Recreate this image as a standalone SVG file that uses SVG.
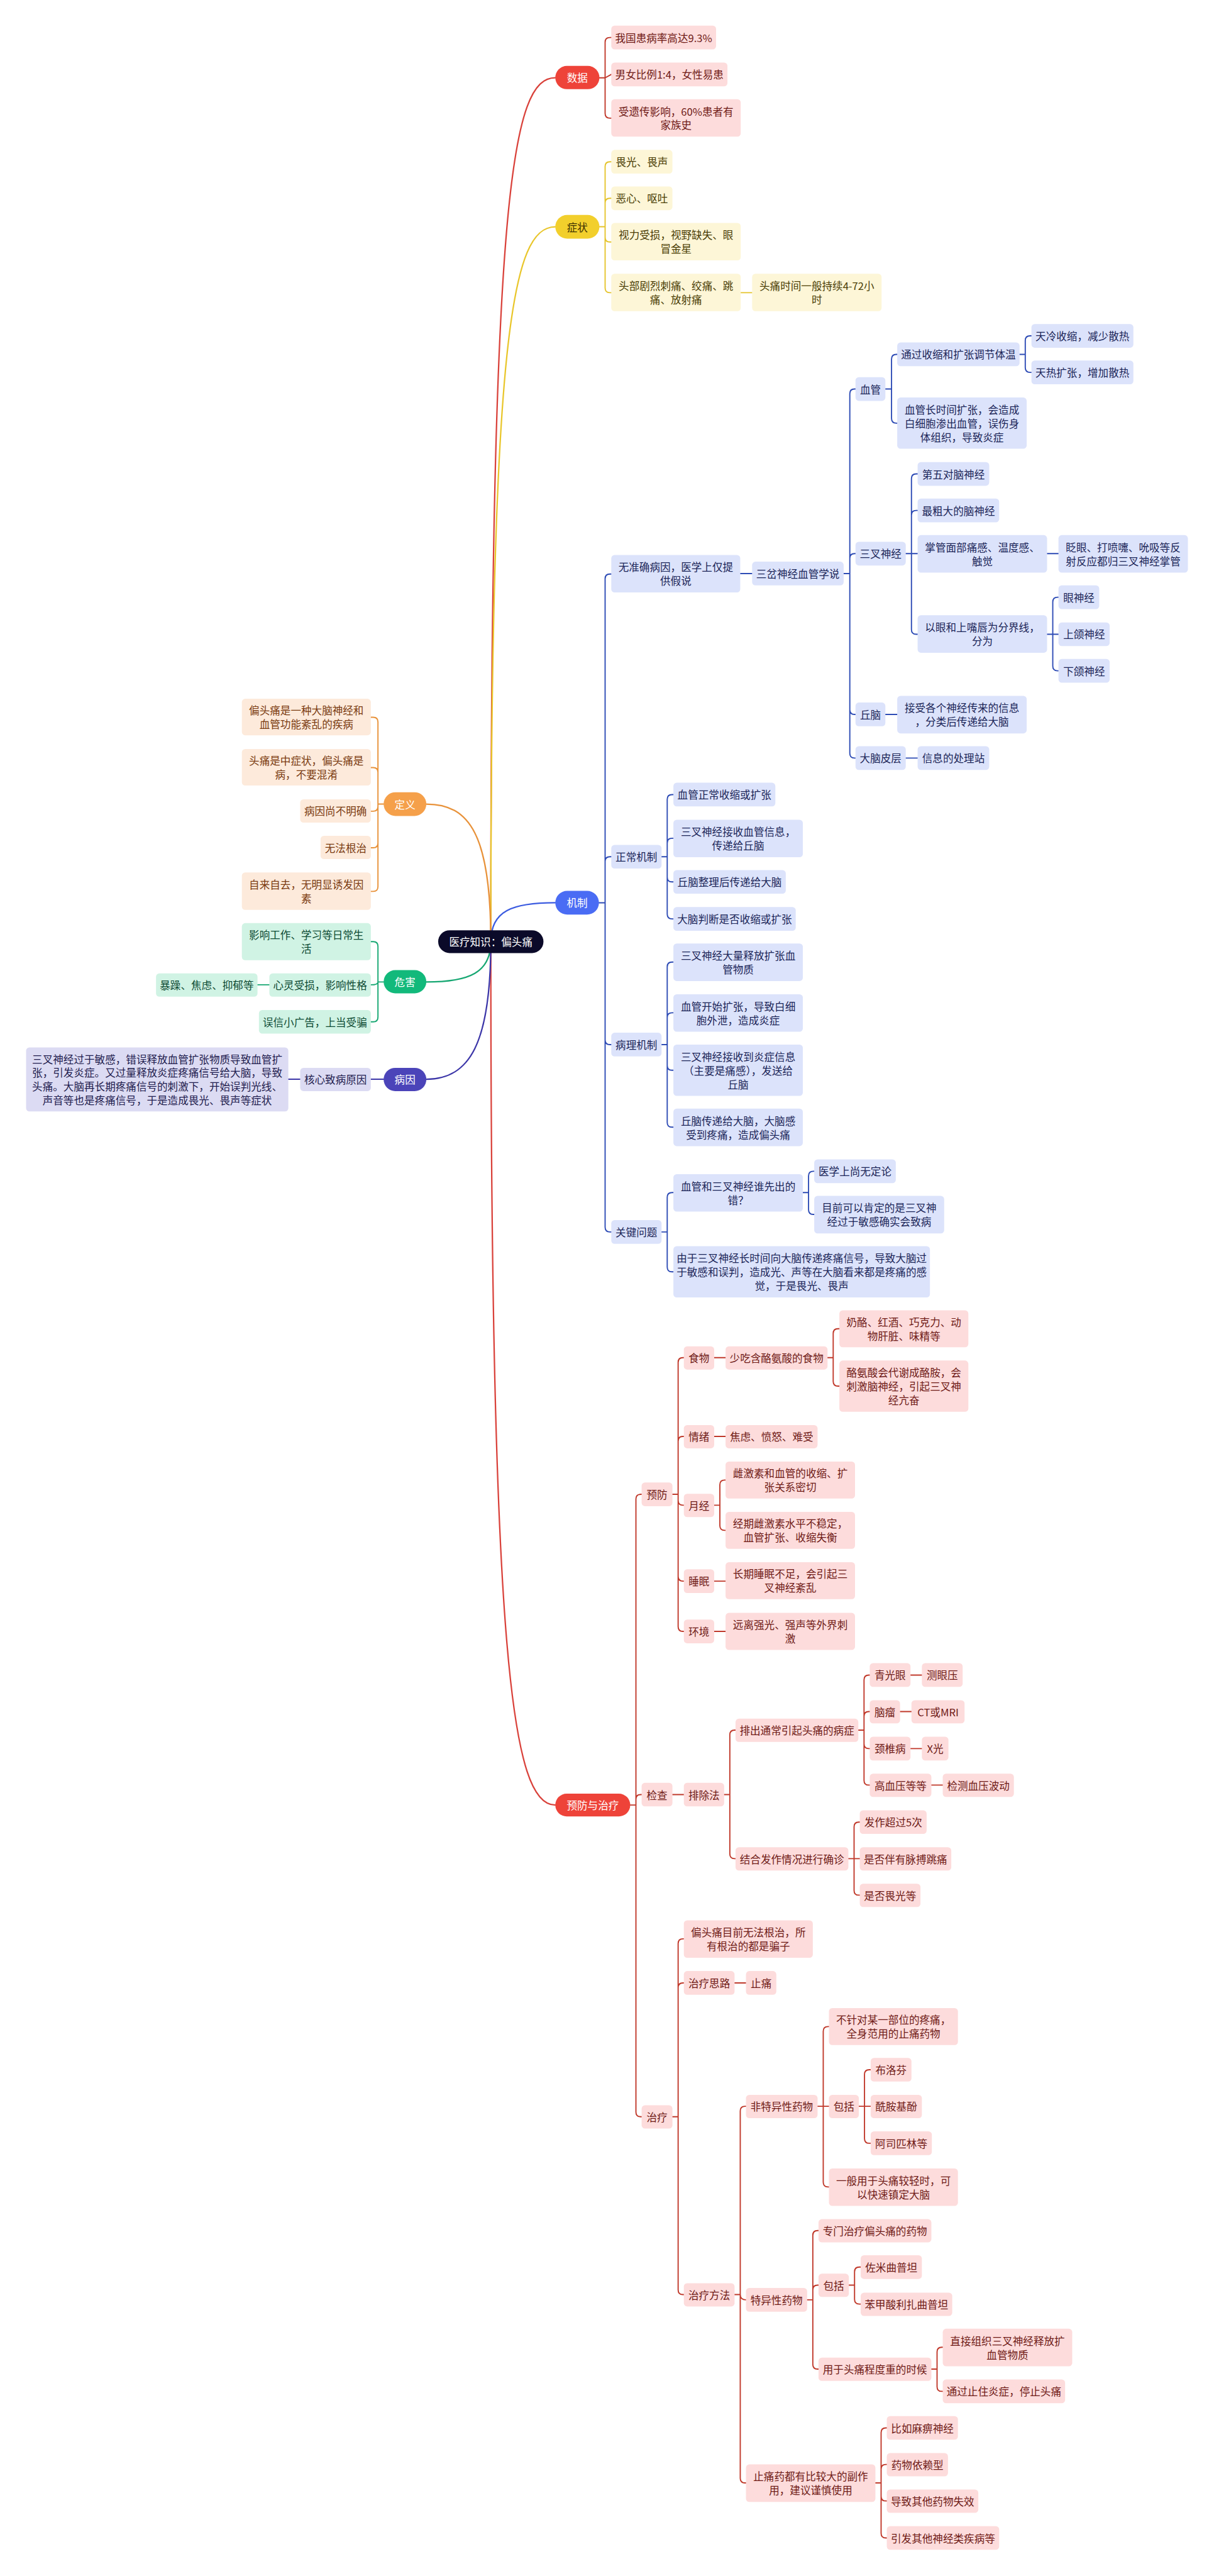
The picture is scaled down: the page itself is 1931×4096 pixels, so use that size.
<svg xmlns="http://www.w3.org/2000/svg" width="1931" height="4096" viewBox="0 0 1931 4096">
<style>
text{font-family:"Noto Sans CJK SC","Noto Sans",sans-serif;font-size:22px;text-anchor:middle;dominant-baseline:central}
.rd rect{fill:#FDDCDC}.rd text{fill:#6F1A16}
.yl rect{fill:#FDF6D7}.yl text{fill:#4A3D05}
.bl rect{fill:#DCE3FB}.bl text{fill:#1B2558}
.or rect{fill:#FDEADB}.or text{fill:#7A3A10}
.gr rect{fill:#D0F3E4}.gr text{fill:#0C4A33}
.in rect{fill:#DCDBF3}.in text{fill:#1F1C4E}
.pill text{fill:#fff}
.c{fill:none;stroke-width:2.5;stroke-linecap:round;stroke-linejoin:round}
.cm{fill:none;stroke-width:3;stroke-linecap:round}
</style>
<rect width="1931" height="4096" fill="#fff"/>
<g transform="scale(0.7543)">
<g id="connectors">
<path class="cm" stroke="#D9413A" d="M1035 1985C1035 400 1080 164 1171 164"/>
<path class="cm" stroke="#E9C62B" d="M1035 1985C1035 700 1080 478 1171 478"/>
<path class="cm" stroke="#3B5BE0" d="M1035 1985C1035 1920 1080 1903 1171 1903"/>
<path class="cm" stroke="#D9413A" d="M1035 1985C1035 3500 1080 3805 1171 3805"/>
<path class="cm" stroke="#E8923A" d="M1035 1985C1035 1760 990 1695 899 1695"/>
<path class="cm" stroke="#16A772" d="M1035 1985C1035 2050 990 2070 899 2070"/>
<path class="cm" stroke="#3C36A8" d="M1035 1985C1035 2200 990 2275 899 2275"/>
<path class="c" stroke="#C0392B" d="M1264 164H1276V89Q1276 79 1286 79H1289M1264 164H1276L1289 157M1264 164H1276V239Q1276 249 1286 249H1289"/>
<path class="c" stroke="#E5C42C" d="M1264 478H1276V351Q1276 341 1286 341H1289M1264 478H1276V428Q1276 418 1286 418H1289M1264 478H1276V500Q1276 510 1286 510H1289M1264 478H1276V607Q1276 617 1286 617H1289M1562 617H1586"/>
<path class="c" stroke="#2D4BB5" d="M1263 1903H1276V1220Q1276 1210 1286 1210H1289M1263 1903H1276V1816Q1276 1806 1286 1806H1289M1263 1903H1276V2192Q1276 2202 1286 2202H1289M1263 1903H1276V2587Q1276 2597 1286 2597H1289M1561 1209H1586M1779 1209H1792V830Q1792 820 1802 820H1804M1779 1209H1792V1177Q1792 1167 1802 1167H1804M1779 1209H1792V1496Q1792 1506 1802 1506H1804M1779 1209H1792V1588Q1792 1598 1802 1598H1804M1867 820H1880V757Q1880 747 1890 747H1892M1867 820H1880V882Q1880 892 1890 892H1892M2150 747H2162V718Q2162 708 2172 708H2175M2150 747H2162V775Q2162 785 2172 785H2175M1910 1167H1922V1009Q1922 999 1932 999H1935M1910 1167H1922V1086Q1922 1076 1932 1076H1935M1910 1167H1935M1910 1167H1922V1327Q1922 1337 1932 1337H1935M2208 1167H2232M2208 1337H2220V1269Q2220 1259 2230 1259H2232M2208 1337H2232M2208 1337H2220V1404Q2220 1414 2230 1414H2232M1867 1506H1892M1910 1598H1935M1395 1806H1407V1685Q1407 1675 1417 1675H1420M1395 1806H1407V1777Q1407 1767 1417 1767H1420M1395 1806H1407V1849Q1407 1859 1417 1859H1420M1395 1806H1407V1927Q1407 1937 1417 1937H1420M1395 2202H1407V2038Q1407 2028 1417 2028H1420M1395 2202H1407V2145Q1407 2135 1417 2135H1420M1395 2202H1407V2246Q1407 2256 1417 2256H1420M1395 2202H1407V2366Q1407 2376 1417 2376H1420M1395 2597H1407V2524Q1407 2514 1417 2514H1420M1395 2597H1407V2671Q1407 2681 1417 2681H1420M1693 2514H1705V2479Q1705 2469 1715 2469H1717M1693 2514H1705V2550Q1705 2560 1715 2560H1717"/>
<path class="c" stroke="#C0392B" d="M1329 3805H1341V3160Q1341 3150 1351 3150H1353M1329 3805H1341V3793Q1341 3783 1351 3783H1353M1329 3805H1341V4452Q1341 4462 1351 4462H1353M1418 3150H1430V2872Q1430 2862 1440 2862H1442M1418 3150H1430V3038Q1430 3028 1440 3028H1442M1418 3150H1430V3163Q1430 3173 1440 3173H1442M1418 3150H1430V3323Q1430 3333 1440 3333H1442M1418 3150H1430V3429Q1430 3439 1440 3439H1442M1506 2862H1530M1745 2862H1757V2811Q1757 2801 1767 2801H1770M1745 2862H1757V2912Q1757 2922 1767 2922H1770M1506 3028H1530M1506 3173H1518V3130Q1518 3120 1528 3120H1530M1506 3173H1518V3216Q1518 3226 1528 3226H1530M1506 3333H1530M1506 3439H1530M1418 3783H1442M1527 3783H1539V3657Q1539 3647 1549 3647H1551M1527 3783H1539V3908Q1539 3918 1549 3918H1551M1810 3647H1822V3541Q1822 3531 1832 3531H1834M1810 3647H1822V3618Q1822 3608 1832 3608H1834M1810 3647H1822V3676Q1822 3686 1832 3686H1834M1810 3647H1822V3753Q1822 3763 1832 3763H1834M1920 3531H1944M1898 3608H1922M1920 3686H1944M1964 3763H1988M1789 3918H1801V3851Q1801 3841 1811 3841H1813M1789 3918H1813M1789 3918H1801V3985Q1801 3995 1811 3995H1813M1418 4462H1430V4097Q1430 4087 1440 4087H1442M1418 4462H1430V4190Q1430 4180 1440 4180H1442M1418 4462H1430V4827Q1430 4837 1440 4837H1442M1549 4180H1573M1549 4837H1561V4450Q1561 4440 1571 4440H1573M1549 4837H1561Q1561 4848 1573 4848M1549 4837H1561V5224Q1561 5234 1571 5234H1573M1724 4440H1736V4282Q1736 4272 1746 4272H1748M1724 4440H1748M1724 4440H1736V4600Q1736 4610 1746 4610H1748M1811 4440H1823V4373Q1823 4363 1833 4363H1836M1811 4440H1836M1811 4440H1823V4508Q1823 4518 1833 4518H1836M1702 4848H1714V4712Q1714 4702 1724 4702H1726M1702 4848H1714V4827Q1714 4817 1724 4817H1726M1702 4848H1714V4984Q1714 4994 1724 4994H1726M1790 4817H1802V4789Q1802 4779 1812 4779H1815M1790 4817H1802V4847Q1802 4857 1812 4857H1815M1964 4994H1976V4958Q1976 4948 1986 4948H1988M1964 4994H1976V5031Q1976 5041 1986 5041H1988M1846 5234H1858V5128Q1858 5118 1868 5118H1870M1846 5234H1858V5205Q1858 5195 1868 5195H1870M1846 5234H1858V5262Q1858 5272 1868 5272H1870M1846 5234H1858V5340Q1858 5350 1868 5350H1870"/>
<path class="c" stroke="#E8923A" d="M809 1695H797V1522Q797 1512 787 1512H782M809 1695H797V1628Q797 1618 787 1618H782M809 1695H797V1700Q797 1710 787 1710H782M809 1695H797V1777Q797 1787 787 1787H782M809 1695H797V1869Q797 1879 787 1879H782"/>
<path class="c" stroke="#16A772" d="M809 2070H797V1995Q797 1985 787 1985H782M809 2070H797Q797 2076 782 2076M809 2070H797V2144Q797 2154 787 2154H782M568 2076H543"/>
<path class="c" stroke="#3C36A8" d="M809 2275H782M633 2275H608"/>
</g>

<g id="root"><rect x="924" y="1961" width="222" height="48" rx="24" fill="#0B0A29"/><text x="1035" y="1985" fill="#fff">医疗知识：偏头痛</text></g>

<g id="b-shuju" class="pill"><rect x="1171" y="139" width="93" height="49" rx="24.5" fill="#EE4339"/><text x="1217.5" y="163.5">数据</text></g>
<g id="d1" class="rd"><rect x="1289" y="54" width="221" height="50" rx="7"/><text x="1399.5" y="79">我国患病率高达9.3%</text></g>
<g id="d2" class="rd"><rect x="1289" y="132" width="245" height="50" rx="7"/><text x="1411.5" y="157">男女比例1:4，女性易患</text></g>
<g id="d3" class="rd"><rect x="1289" y="209" width="273" height="79" rx="7"/><text x="1425.5"><tspan x="1425.5" y="234">受遗传影响，60%患者有</tspan><tspan x="1425.5" y="263">家族史</tspan></text></g>

<g id="b-zhengzhuang"><rect x="1171" y="453" width="93" height="50" rx="25" fill="#F2CF2C"/><text x="1217.5" y="478" fill="#3D3000">症状</text></g>
<g id="s1" class="yl"><rect x="1289" y="316" width="129" height="50" rx="7"/><text x="1353.5" y="341">畏光、畏声</text></g>
<g id="s2" class="yl"><rect x="1289" y="393" width="129" height="50" rx="7"/><text x="1353.5" y="418">恶心、呕吐</text></g>
<g id="s3" class="yl"><rect x="1289" y="470" width="273" height="79" rx="7"/><text><tspan x="1425.5" y="495">视力受损，视野缺失、眼</tspan><tspan x="1425.5" y="524">冒金星</tspan></text></g>
<g id="s4" class="yl"><rect x="1289" y="577" width="273" height="79" rx="7"/><text><tspan x="1425.5" y="602">头部剧烈刺痛、绞痛、跳</tspan><tspan x="1425.5" y="631">痛、放射痛</tspan></text></g>
<g id="s5" class="yl"><rect x="1586" y="577" width="273" height="79" rx="7"/><text><tspan x="1722.5" y="602">头痛时间一般持续4-72小</tspan><tspan x="1722.5" y="631">时</tspan></text></g>

<g id="b-jizhi" class="pill"><rect x="1171" y="1878" width="92" height="50" rx="25" fill="#4A6CF4"/><text x="1217" y="1903">机制</text></g>
<g id="m1" class="bl"><rect x="1289" y="1170" width="272" height="79" rx="7"/><text><tspan x="1425" y="1195">无准确病因，医学上仅提</tspan><tspan x="1425" y="1224">供假说</tspan></text></g>
<g id="m1a" class="bl"><rect x="1586" y="1184" width="193" height="50" rx="7"/><text x="1682.5" y="1209">三岔神经血管学说</text></g>
<g id="m-xg" class="bl"><rect x="1804" y="795" width="63" height="50" rx="7"/><text x="1835.5" y="820">血管</text></g>
<g id="m-xg1" class="bl"><rect x="1892" y="722" width="258" height="50" rx="7"/><text x="2021" y="747">通过收缩和扩张调节体温</text></g>
<g id="m-xg1a" class="bl"><rect x="2175" y="683" width="215" height="50" rx="7"/><text x="2282.5" y="708">天冷收缩，减少散热</text></g>
<g id="m-xg1b" class="bl"><rect x="2175" y="760" width="215" height="50" rx="7"/><text x="2282.5" y="785">天热扩张，增加散热</text></g>
<g id="m-xg2" class="bl"><rect x="1892" y="838" width="273" height="108" rx="7"/><text><tspan x="2028.5" y="863">血管长时间扩张，会造成</tspan><tspan x="2028.5" y="892">白细胞渗出血管，误伤身</tspan><tspan x="2028.5" y="921">体组织，导致炎症</tspan></text></g>
<g id="m-sc" class="bl"><rect x="1804" y="1142" width="106" height="50" rx="7"/><text x="1857" y="1167">三叉神经</text></g>
<g id="m-sc1" class="bl"><rect x="1935" y="974" width="151" height="50" rx="7"/><text x="2010.5" y="999">第五对脑神经</text></g>
<g id="m-sc2" class="bl"><rect x="1935" y="1051" width="172" height="50" rx="7"/><text x="2021" y="1076">最粗大的脑神经</text></g>
<g id="m-sc3" class="bl"><rect x="1935" y="1128" width="273" height="79" rx="7"/><text><tspan x="2071.5" y="1153">掌管面部痛感、温度感、</tspan><tspan x="2071.5" y="1182">触觉</tspan></text></g>
<g id="m-sc3a" class="bl"><rect x="2232" y="1128" width="273" height="79" rx="7"/><text><tspan x="2368.5" y="1153">眨眼、打喷嚏、吮吸等反</tspan><tspan x="2368.5" y="1182">射反应都归三叉神经掌管</tspan></text></g>
<g id="m-sc4" class="bl"><rect x="1935" y="1297" width="273" height="79" rx="7"/><text><tspan x="2071.5" y="1322">以眼和上嘴唇为分界线，</tspan><tspan x="2071.5" y="1351">分为</tspan></text></g>
<g id="m-sc4a" class="bl"><rect x="2232" y="1234" width="86" height="50" rx="7"/><text x="2275" y="1259">眼神经</text></g>
<g id="m-sc4b" class="bl"><rect x="2232" y="1312" width="108" height="50" rx="7"/><text x="2286" y="1337">上颌神经</text></g>
<g id="m-sc4c" class="bl"><rect x="2232" y="1389" width="108" height="50" rx="7"/><text x="2286" y="1414">下颌神经</text></g>
<g id="m-qn" class="bl"><rect x="1804" y="1481" width="63" height="50" rx="7"/><text x="1835.5" y="1506">丘脑</text></g>
<g id="m-qn1" class="bl"><rect x="1892" y="1467" width="273" height="79" rx="7"/><text><tspan x="2028.5" y="1492">接受各个神经传来的信息</tspan><tspan x="2028.5" y="1521">，分类后传递给大脑</tspan></text></g>
<g id="m-dn" class="bl"><rect x="1804" y="1573" width="106" height="50" rx="7"/><text x="1857" y="1598">大脑皮层</text></g>
<g id="m-dn1" class="bl"><rect x="1935" y="1573" width="151" height="50" rx="7"/><text x="2010.5" y="1598">信息的处理站</text></g>
<g id="m2" class="bl"><rect x="1289" y="1781" width="106" height="50" rx="7"/><text x="1342" y="1806">正常机制</text></g>
<g id="m2a" class="bl"><rect x="1420" y="1650" width="215" height="50" rx="7"/><text x="1527.5" y="1675">血管正常收缩或扩张</text></g>
<g id="m2b" class="bl"><rect x="1420" y="1728" width="273" height="79" rx="7"/><text><tspan x="1556.5" y="1753">三叉神经接收血管信息，</tspan><tspan x="1556.5" y="1782">传递给丘脑</tspan></text></g>
<g id="m2c" class="bl"><rect x="1420" y="1834" width="237" height="50" rx="7"/><text x="1538.5" y="1859">丘脑整理后传递给大脑</text></g>
<g id="m2d" class="bl"><rect x="1420" y="1912" width="258" height="50" rx="7"/><text x="1549" y="1937">大脑判断是否收缩或扩张</text></g>
<g id="m3" class="bl"><rect x="1289" y="2177" width="106" height="50" rx="7"/><text x="1342" y="2202">病理机制</text></g>
<g id="m3a" class="bl"><rect x="1420" y="1989" width="273" height="79" rx="7"/><text><tspan x="1556.5" y="2014">三叉神经大量释放扩张血</tspan><tspan x="1556.5" y="2043">管物质</tspan></text></g>
<g id="m3b" class="bl"><rect x="1420" y="2096" width="273" height="79" rx="7"/><text><tspan x="1556.5" y="2121">血管开始扩张，导致白细</tspan><tspan x="1556.5" y="2150">胞外泄，造成炎症</tspan></text></g>
<g id="m3c" class="bl"><rect x="1420" y="2202" width="273" height="108" rx="7"/><text><tspan x="1556.5" y="2227">三叉神经接收到炎症信息</tspan><tspan x="1556.5" y="2256">（主要是痛感），发送给</tspan><tspan x="1556.5" y="2285">丘脑</tspan></text></g>
<g id="m3d" class="bl"><rect x="1420" y="2337" width="273" height="79" rx="7"/><text><tspan x="1556.5" y="2362">丘脑传递给大脑，大脑感</tspan><tspan x="1556.5" y="2391">受到疼痛，造成偏头痛</tspan></text></g>
<g id="m4" class="bl"><rect x="1289" y="2572" width="106" height="50" rx="7"/><text x="1342" y="2597">关键问题</text></g>
<g id="m4a" class="bl"><rect x="1420" y="2475" width="273" height="79" rx="7"/><text><tspan x="1556.5" y="2500">血管和三叉神经谁先出的</tspan><tspan x="1556.5" y="2529">错？</tspan></text></g>
<g id="m4a1" class="bl"><rect x="1717" y="2444" width="172" height="50" rx="7"/><text x="1803" y="2469">医学上尚无定论</text></g>
<g id="m4a2" class="bl"><rect x="1717" y="2521" width="274" height="79" rx="7"/><text><tspan x="1854" y="2546">目前可以肯定的是三叉神</tspan><tspan x="1854" y="2575">经过于敏感确实会致病</tspan></text></g>
<g id="m4b" class="bl"><rect x="1420" y="2627" width="541" height="108" rx="7"/><text><tspan x="1690.5" y="2652">由于三叉神经长时间向大脑传递疼痛信号，导致大脑过</tspan><tspan x="1690.5" y="2681">于敏感和误判，造成光、声等在大脑看来都是疼痛的感</tspan><tspan x="1690.5" y="2710">觉，于是畏光、畏声</tspan></text></g>

<g id="b-yufang" class="pill"><rect x="1171" y="3781" width="158" height="48" rx="24" fill="#EE4339"/><text x="1250" y="3805">预防与治疗</text></g>
<g id="y1" class="rd"><rect x="1353" y="3125" width="65" height="50" rx="7"/><text x="1385.5" y="3150">预防</text></g>
<g id="y1a" class="rd"><rect x="1442" y="2838" width="64" height="49" rx="7"/><text x="1474" y="2862.5">食物</text></g>
<g id="y1a1" class="rd"><rect x="1530" y="2838" width="215" height="49" rx="7"/><text x="1637.5" y="2862.5">少吃含酪氨酸的食物</text></g>
<g id="y1a1a" class="rd"><rect x="1770" y="2762" width="272" height="78" rx="7"/><text><tspan x="1906" y="2786.5">奶酪、红酒、巧克力、动</tspan><tspan x="1906" y="2815.5">物肝脏、味精等</tspan></text></g>
<g id="y1a1b" class="rd"><rect x="1770" y="2868" width="272" height="108" rx="7"/><text><tspan x="1906" y="2893">酪氨酸会代谢成酪胺，会</tspan><tspan x="1906" y="2922">刺激脑神经，引起三叉神</tspan><tspan x="1906" y="2951">经亢奋</tspan></text></g>
<g id="y1b" class="rd"><rect x="1442" y="3004" width="64" height="49" rx="7"/><text x="1474" y="3028.5">情绪</text></g>
<g id="y1b1" class="rd"><rect x="1530" y="3004" width="194" height="49" rx="7"/><text x="1627" y="3028.5">焦虑、愤怒、难受</text></g>
<g id="y1c" class="rd"><rect x="1442" y="3149" width="64" height="49" rx="7"/><text x="1474" y="3173.5">月经</text></g>
<g id="y1c1" class="rd"><rect x="1530" y="3081" width="273" height="78" rx="7"/><text><tspan x="1666.5" y="3105.5">雌激素和血管的收缩、扩</tspan><tspan x="1666.5" y="3134.5">张关系密切</tspan></text></g>
<g id="y1c2" class="rd"><rect x="1530" y="3187" width="273" height="78" rx="7"/><text><tspan x="1666.5" y="3211.5">经期雌激素水平不稳定，</tspan><tspan x="1666.5" y="3240.5">血管扩张、收缩失衡</tspan></text></g>
<g id="y1d" class="rd"><rect x="1442" y="3308" width="64" height="50" rx="7"/><text x="1474" y="3333">睡眠</text></g>
<g id="y1d1" class="rd"><rect x="1530" y="3293" width="273" height="78" rx="7"/><text><tspan x="1666.5" y="3317.5">长期睡眠不足，会引起三</tspan><tspan x="1666.5" y="3346.5">叉神经紊乱</tspan></text></g>
<g id="y1e" class="rd"><rect x="1442" y="3414" width="64" height="50" rx="7"/><text x="1474" y="3439">环境</text></g>
<g id="y1e1" class="rd"><rect x="1530" y="3400" width="273" height="78" rx="7"/><text><tspan x="1666.5" y="3424.5">远离强光、强声等外界刺</tspan><tspan x="1666.5" y="3453.5">激</tspan></text></g>
<g id="y2" class="rd"><rect x="1353" y="3758" width="65" height="50" rx="7"/><text x="1385.5" y="3783">检查</text></g>
<g id="y2a" class="rd"><rect x="1442" y="3758" width="85" height="50" rx="7"/><text x="1484.5" y="3783">排除法</text></g>
<g id="y2a1" class="rd"><rect x="1551" y="3623" width="259" height="49" rx="7"/><text x="1680.5" y="3647.5">排出通常引起头痛的病症</text></g>
<g id="y2a1a" class="rd"><rect x="1834" y="3506" width="86" height="50" rx="7"/><text x="1877" y="3531">青光眼</text></g>
<g id="y2a1a1" class="rd"><rect x="1944" y="3506" width="86" height="50" rx="7"/><text x="1987" y="3531">测眼压</text></g>
<g id="y2a1b" class="rd"><rect x="1834" y="3584" width="64" height="49" rx="7"/><text x="1866" y="3608.5">脑瘤</text></g>
<g id="y2a1b1" class="rd"><rect x="1922" y="3584" width="112" height="49" rx="7"/><text x="1978" y="3608.5">CT或MRI</text></g>
<g id="y2a1c" class="rd"><rect x="1834" y="3661" width="86" height="50" rx="7"/><text x="1877" y="3686">颈椎病</text></g>
<g id="y2a1c1" class="rd"><rect x="1944" y="3661" width="56" height="50" rx="7"/><text x="1972" y="3686">X光</text></g>
<g id="y2a1d" class="rd"><rect x="1834" y="3739" width="130" height="49" rx="7"/><text x="1899" y="3763.5">高血压等等</text></g>
<g id="y2a1d1" class="rd"><rect x="1988" y="3739" width="150" height="49" rx="7"/><text x="2063" y="3763.5">检测血压波动</text></g>
<g id="y2a2" class="rd"><rect x="1551" y="3894" width="238" height="49" rx="7"/><text x="1670" y="3918.5">结合发作情况进行确诊</text></g>
<g id="y2a2a" class="rd"><rect x="1813" y="3816" width="141" height="50" rx="7"/><text x="1883.5" y="3841">发作超过5次</text></g>
<g id="y2a2b" class="rd"><rect x="1813" y="3894" width="193" height="49" rx="7"/><text x="1909.5" y="3918.5">是否伴有脉搏跳痛</text></g>
<g id="y2a2c" class="rd"><rect x="1813" y="3971" width="128" height="49" rx="7"/><text x="1877" y="3995.5">是否畏光等</text></g>
<g id="y3" class="rd"><rect x="1353" y="4438" width="65" height="49" rx="7"/><text x="1385.5" y="4462.5">治疗</text></g>
<g id="y3a" class="rd"><rect x="1442" y="4048" width="272" height="79" rx="7"/><text><tspan x="1578" y="4073">偏头痛目前无法根治，所</tspan><tspan x="1578" y="4102">有根治的都是骗子</tspan></text></g>
<g id="y3b" class="rd"><rect x="1442" y="4155" width="107" height="50" rx="7"/><text x="1495.5" y="4180">治疗思路</text></g>
<g id="y3b1" class="rd"><rect x="1573" y="4155" width="64" height="50" rx="7"/><text x="1605" y="4180">止痛</text></g>
<g id="y3c" class="rd"><rect x="1442" y="4813" width="107" height="49" rx="7"/><text x="1495.5" y="4837.5">治疗方法</text></g>
<g id="y3c1" class="rd"><rect x="1573" y="4416" width="151" height="49" rx="7"/><text x="1648.5" y="4440.5">非特异性药物</text></g>
<g id="y3c1a" class="rd"><rect x="1748" y="4233" width="272" height="78" rx="7"/><text><tspan x="1884" y="4257.5">不针对某一部位的疼痛，</tspan><tspan x="1884" y="4286.5">全身范用的止痛药物</tspan></text></g>
<g id="y3c1b" class="rd"><rect x="1748" y="4416" width="63" height="49" rx="7"/><text x="1779.5" y="4440.5">包括</text></g>
<g id="y3c1b1" class="rd"><rect x="1836" y="4338" width="86" height="50" rx="7"/><text x="1879" y="4363">布洛芬</text></g>
<g id="y3c1b2" class="rd"><rect x="1836" y="4416" width="108" height="49" rx="7"/><text x="1890" y="4440.5">酰胺基酚</text></g>
<g id="y3c1b3" class="rd"><rect x="1836" y="4493" width="129" height="50" rx="7"/><text x="1900.5" y="4518">阿司匹林等</text></g>
<g id="y3c1c" class="rd"><rect x="1748" y="4571" width="272" height="79" rx="7"/><text><tspan x="1884" y="4596">一般用于头痛较轻时，可</tspan><tspan x="1884" y="4625">以快速镇定大脑</tspan></text></g>
<g id="y3c2" class="rd"><rect x="1573" y="4823" width="129" height="50" rx="7"/><text x="1637.5" y="4848">特异性药物</text></g>
<g id="y3c2a" class="rd"><rect x="1726" y="4678" width="238" height="49" rx="7"/><text x="1845" y="4702.5">专门治疗偏头痛的药物</text></g>
<g id="y3c2b" class="rd"><rect x="1726" y="4793" width="64" height="49" rx="7"/><text x="1758" y="4817.5">包括</text></g>
<g id="y3c2b1" class="rd"><rect x="1815" y="4754" width="129" height="50" rx="7"/><text x="1879.5" y="4779">佐米曲普坦</text></g>
<g id="y3c2b2" class="rd"><rect x="1815" y="4833" width="193" height="49" rx="7"/><text x="1911.5" y="4857.5">苯甲酸利扎曲普坦</text></g>
<g id="y3c2c" class="rd"><rect x="1726" y="4970" width="238" height="49" rx="7"/><text x="1845" y="4994.5">用于头痛程度重的时候</text></g>
<g id="y3c2c1" class="rd"><rect x="1988" y="4909" width="273" height="79" rx="7"/><text><tspan x="2124.5" y="4934">直接组织三叉神经释放扩</tspan><tspan x="2124.5" y="4963">血管物质</tspan></text></g>
<g id="y3c2c2" class="rd"><rect x="1988" y="5016" width="258" height="50" rx="7"/><text x="2117" y="5041">通过止住炎症，停止头痛</text></g>
<g id="y3c3" class="rd"><rect x="1573" y="5195" width="273" height="79" rx="7"/><text><tspan x="1709.5" y="5220">止痛药都有比较大的副作</tspan><tspan x="1709.5" y="5249">用，建议谨慎使用</tspan></text></g>
<g id="y3c3a" class="rd"><rect x="1870" y="5093" width="150" height="50" rx="7"/><text x="1945" y="5118">比如麻痹神经</text></g>
<g id="y3c3b" class="rd"><rect x="1870" y="5171" width="129" height="49" rx="7"/><text x="1934.5" y="5195.5">药物依赖型</text></g>
<g id="y3c3c" class="rd"><rect x="1870" y="5248" width="193" height="49" rx="7"/><text x="1966.5" y="5272.5">导致其他药物失效</text></g>
<g id="y3c3d" class="rd"><rect x="1870" y="5325" width="237" height="50" rx="7"/><text x="1988.5" y="5350">引发其他神经类疾病等</text></g>

<g id="b-dingyi" class="pill"><rect x="809" y="1670" width="90" height="50" rx="25" fill="#F5A04A"/><text x="854" y="1695">定义</text></g>
<g id="o1" class="or"><rect x="510" y="1473" width="272" height="77" rx="7"/><text><tspan x="646" y="1497">偏头痛是一种大脑神经和</tspan><tspan x="646" y="1526">血管功能紊乱的疾病</tspan></text></g>
<g id="o2" class="or"><rect x="510" y="1579" width="272" height="77" rx="7"/><text><tspan x="646" y="1603">头痛是中症状，偏头痛是</tspan><tspan x="646" y="1632">病，不要混淆</tspan></text></g>
<g id="o3" class="or"><rect x="633" y="1685" width="149" height="49" rx="7"/><text x="707.5" y="1709.5">病因尚不明确</text></g>
<g id="o4" class="or"><rect x="676" y="1762" width="106" height="49" rx="7"/><text x="729" y="1786.5">无法根治</text></g>
<g id="o5" class="or"><rect x="510" y="1839" width="272" height="79" rx="7"/><text><tspan x="646" y="1864">自来自去，无明显诱发因</tspan><tspan x="646" y="1893">素</tspan></text></g>

<g id="b-weihai" class="pill"><rect x="809" y="2045" width="90" height="49" rx="24.5" fill="#12B97B"/><text x="854" y="2069.5">危害</text></g>
<g id="g1" class="gr"><rect x="510" y="1946" width="272" height="78" rx="7"/><text><tspan x="646" y="1970.5">影响工作、学习等日常生</tspan><tspan x="646" y="1999.5">活</tspan></text></g>
<g id="g2" class="gr"><rect x="568" y="2052" width="214" height="49" rx="7"/><text x="675" y="2076.5">心灵受损，影响性格</text></g>
<g id="g2a" class="gr"><rect x="329" y="2052" width="214" height="49" rx="7"/><text x="436" y="2076.5">暴躁、焦虑、抑郁等</text></g>
<g id="g3" class="gr"><rect x="546" y="2129" width="236" height="50" rx="7"/><text x="664" y="2154">误信小广告，上当受骗</text></g>

<g id="b-bingyin" class="pill"><rect x="809" y="2251" width="90" height="49" rx="24.5" fill="#4B44B9"/><text x="854" y="2275.5">病因</text></g>
<g id="i1" class="in"><rect x="633" y="2251" width="149" height="49" rx="7"/><text x="707.5" y="2275.5">核心致病原因</text></g>
<g id="i1a" class="in"><rect x="55" y="2208" width="553" height="135" rx="7"/><text><tspan x="331.5" y="2232">三叉神经过于敏感，错误释放血管扩张物质导致血管扩</tspan><tspan x="331.5" y="2261">张，引发炎症。又过量释放炎症疼痛信号给大脑，导致</tspan><tspan x="331.5" y="2290">头痛。大脑再长期疼痛信号的刺激下，开始误判光线、</tspan><tspan x="331.5" y="2319">声音等也是疼痛信号，于是造成畏光、畏声等症状</tspan></text></g>
</g>
</svg>
